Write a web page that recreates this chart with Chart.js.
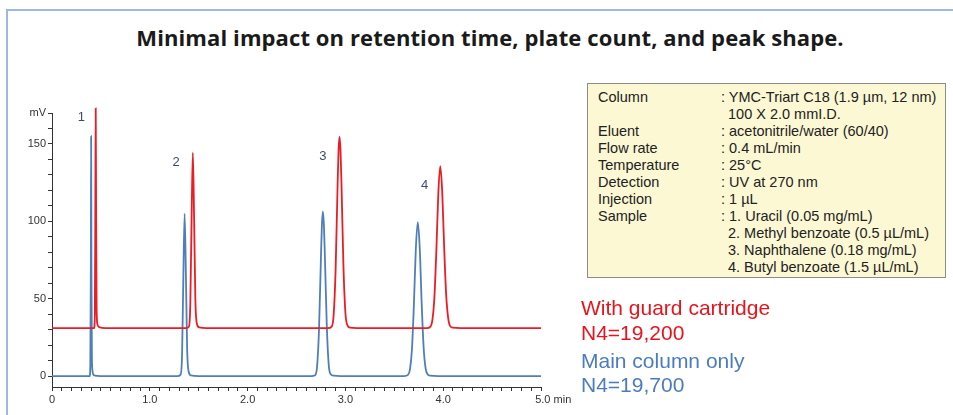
<!DOCTYPE html>
<html>
<head>
<meta charset="utf-8">
<script src="https://cdn.jsdelivr.net/npm/chart.js@4/dist/chart.umd.min.js"></script>
<style>
  html, body { margin: 0; padding: 0; background: #fff; }
  body { width: 953px; height: 415px; position: relative; overflow: hidden; font-family: "Liberation Sans", Arial, sans-serif; }
  #wrap { position: absolute; left: 0; top: 0; width: 953px; height: 415px; }
  .frame { position: absolute; left: 6px; top: 9px; width: 960px; height: 420px;
    border-left: 2px solid #9db8e2; border-top: 2px solid #9db8e2; }
  .title { position: absolute; left: 27px; width: 926px; top: 22px; text-align: center;
    font-family: "Open Sans", sans-serif; font-weight: 700; font-size: 22px; color: #1a1a1a; letter-spacing: 0.1px; }
  .info { position: absolute; left: 587px; top: 83px; width: 359px; height: 195px; box-sizing: border-box;
    background: #fdf8d4; border: 1px solid #8c8c8c; padding: 5px 0 0 10px; font-size: 14.5px; line-height: 17px; color: #222; }
  .row { display: flex; white-space: nowrap; }
  .row .k { width: 123px; }
  .row .c { padding-left: 7px; }
  .leg { position: absolute; left: 581px; font-size: 21px; line-height: 25px; }
</style>
</head>
<body>
<div class="frame"></div>
<div class="title">Minimal impact on retention time, plate count, and peak shape.</div>
<div id="wrap"><canvas id="chromChart"></canvas></div>
<div class="info">
  <div class="row"><div class="k">Column</div><div>: YMC-Triart C18 (1.9 µm, 12 nm)</div></div>
  <div class="row"><div class="k"></div><div class="c">100 X 2.0 mmI.D.</div></div>
  <div class="row"><div class="k">Eluent</div><div>: acetonitrile/water (60/40)</div></div>
  <div class="row"><div class="k">Flow rate</div><div>: 0.4 mL/min</div></div>
  <div class="row"><div class="k">Temperature</div><div>: 25°C</div></div>
  <div class="row"><div class="k">Detection</div><div>: UV at 270 nm</div></div>
  <div class="row"><div class="k">Injection</div><div>: 1 µL</div></div>
  <div class="row"><div class="k">Sample</div><div>: 1. Uracil (0.05 mg/mL)</div></div>
  <div class="row"><div class="k"></div><div class="c">2. Methyl benzoate (0.5 µL/mL)</div></div>
  <div class="row"><div class="k"></div><div class="c">3. Naphthalene (0.18 mg/mL)</div></div>
  <div class="row"><div class="k"></div><div class="c">4. Butyl benzoate (1.5 µL/mL)</div></div>
</div>
<div class="leg" style="top:295px;color:#e8141c">With guard cartridge</div>
<div class="leg" style="top:320px;color:#e8141c">N4=19,200</div>
<div class="leg" style="top:348px;color:#4a7cbf">Main column only</div>
<div class="leg" style="top:372px;color:#4a7cbf">N4=19,700</div>
<script>
// retention time (min) / signal (mV)
const mainTime = [0, 0.30, 0.385, 0.392, 0.397, 0.400, 0.403, 0.408, 0.415, 0.43, 0.50,
  1.28, 1.315, 1.330, 1.343, 1.356, 1.369, 1.382, 1.397, 1.42, 1.50,
  2.65, 2.69, 2.71, 2.73, 2.75, 2.76, 2.77, 2.78, 2.79, 2.81, 2.83, 2.85, 2.88, 2.95,
  3.60, 3.64, 3.66, 3.68, 3.70, 3.72, 3.74, 3.76, 3.78, 3.80, 3.82, 3.84, 3.87, 3.95, 5.0];
const mainSignal = [0, 0, 0, 8, 70, 155, 70, 12, 3, 0.5, 0,
  0, 1, 14, 64, 105, 66, 17, 3, 0.5, 0,
  0, 0.6, 6, 30, 77, 98, 106.5, 98, 78, 32, 7, 1.2, 0.3, 0,
  0, 0.8, 4.4, 17, 45.6, 82, 99.5, 83, 47, 18.5, 5, 1.2, 0.3, 0, 0];

const guardTime = [0, 0.43, 0.438, 0.443, 0.447, 0.451, 0.456, 0.463, 0.48, 0.55,
  1.37, 1.40, 1.414, 1.427, 1.44, 1.453, 1.466, 1.481, 1.505, 1.58,
  2.82, 2.86, 2.88, 2.90, 2.92, 2.93, 2.94, 2.95, 2.96, 2.98, 3.00, 3.02, 3.05, 3.12,
  3.83, 3.87, 3.89, 3.91, 3.93, 3.95, 3.97, 3.99, 4.01, 4.03, 4.05, 4.07, 4.10, 4.18, 5.0];
const guardSignal = [31, 31, 40, 108, 173, 108, 45, 34, 31.8, 31,
  31, 32, 46, 100, 144.4, 102, 49, 34, 31.5, 31,
  31, 32, 39.7, 69, 123, 146, 154.8, 146, 124, 71, 41, 33, 31.3, 31,
  31, 32, 36.5, 51, 81, 118, 135.7, 119, 83, 53, 38, 32.5, 31.3, 31, 31];

const peakNames = ['1', '2', '3', '4'];
const peakLabelTime = [0.30, 1.27, 2.77, 3.81];
const peakLabelSignal = [167, 138, 142, 123];

function toPoints(xs, ys) {
  return xs.map(function (x, i) { return { x: x, y: ys[i] }; });
}

const peakLabels = {
  id: 'peakLabels',
  afterDatasetsDraw: function (chart) {
    const ctx = chart.ctx;
    const xs = chart.scales.x, ys = chart.scales.y;
    ctx.save();
    ctx.font = '13px "Liberation Sans", Arial, sans-serif';
    ctx.fillStyle = '#3d4c6e';
    ctx.textAlign = 'center';
    ctx.textBaseline = 'middle';
    peakNames.forEach(function (n, i) {
      ctx.fillText(n, xs.getPixelForValue(peakLabelTime[i]), ys.getPixelForValue(peakLabelSignal[i]));
    });
    ctx.restore();
  }
};

document.addEventListener('DOMContentLoaded', function () {
  const ctx = document.getElementById('chromChart').getContext('2d');
  new Chart(ctx, {
    type: 'line',
    data: {
      datasets: [{
        label: 'With guard cartridge',
        data: toPoints(guardTime, guardSignal),
        borderColor: '#ec1c24',
        borderWidth: 1.8,
        pointRadius: 0,
        cubicInterpolationMode: 'monotone',
        clip: false
      }, {
        label: 'Main column only',
        data: toPoints(mainTime, mainSignal),
        borderColor: '#4f7fb9',
        borderWidth: 1.8,
        pointRadius: 0,
        cubicInterpolationMode: 'monotone',
        clip: false
      }]
    },
    options: {
      responsive: true,
      maintainAspectRatio: false,
      animation: false,
      layout: { padding: { top: 113, right: 412, bottom: 0, left: 0 } },
      plugins: {
        legend: { display: false },
        title: { display: false },
        tooltip: { enabled: false }
      },
      scales: {
        x: {
          type: 'linear',
          min: 0,
          max: 5,
          afterBuildTicks: function (scale) {
            const t = [];
            for (let i = 0; i <= 50; i++) t.push({ value: i / 10 });
            scale.ticks = t;
          },
          afterFit: function (scale) { scale.height = 28; },
          border: { color: '#333', width: 1 },
          grid: { drawOnChartArea: false, tickLength: 4, tickColor: '#333' },
          ticks: {
            autoSkip: false,
            maxRotation: 0,
            padding: 2,
            color: '#333',
            font: { size: 11, family: '"Liberation Sans", Arial, sans-serif' },
            callback: function (v) {
              const r = Math.round(v * 10);
              if (r % 10 !== 0) return '';
              if (r === 0) return '0';
              if (r === 50) return '        5.0 min';
              return (r / 10).toFixed(1);
            }
          }
        },
        y: {
          min: -7,
          max: 170,
          afterBuildTicks: function (scale) {
            const t = [];
            for (let v = 0; v <= 170; v += 10) t.push({ value: v });
            scale.ticks = t;
          },
          afterFit: function (scale) { scale.width = 52; },
          border: { color: '#333', width: 1 },
          grid: { drawOnChartArea: false, tickLength: 4, tickColor: '#333' },
          ticks: {
            autoSkip: false,
            padding: 2,
            color: '#333',
            font: { size: 11, family: '"Liberation Sans", Arial, sans-serif' },
            callback: function (v) {
              if (v === 170) return 'mV';
              return v % 50 === 0 ? String(v) : '';
            }
          }
        }
      }
    },
    plugins: [peakLabels]
  });
});
</script>
</body>
</html>
